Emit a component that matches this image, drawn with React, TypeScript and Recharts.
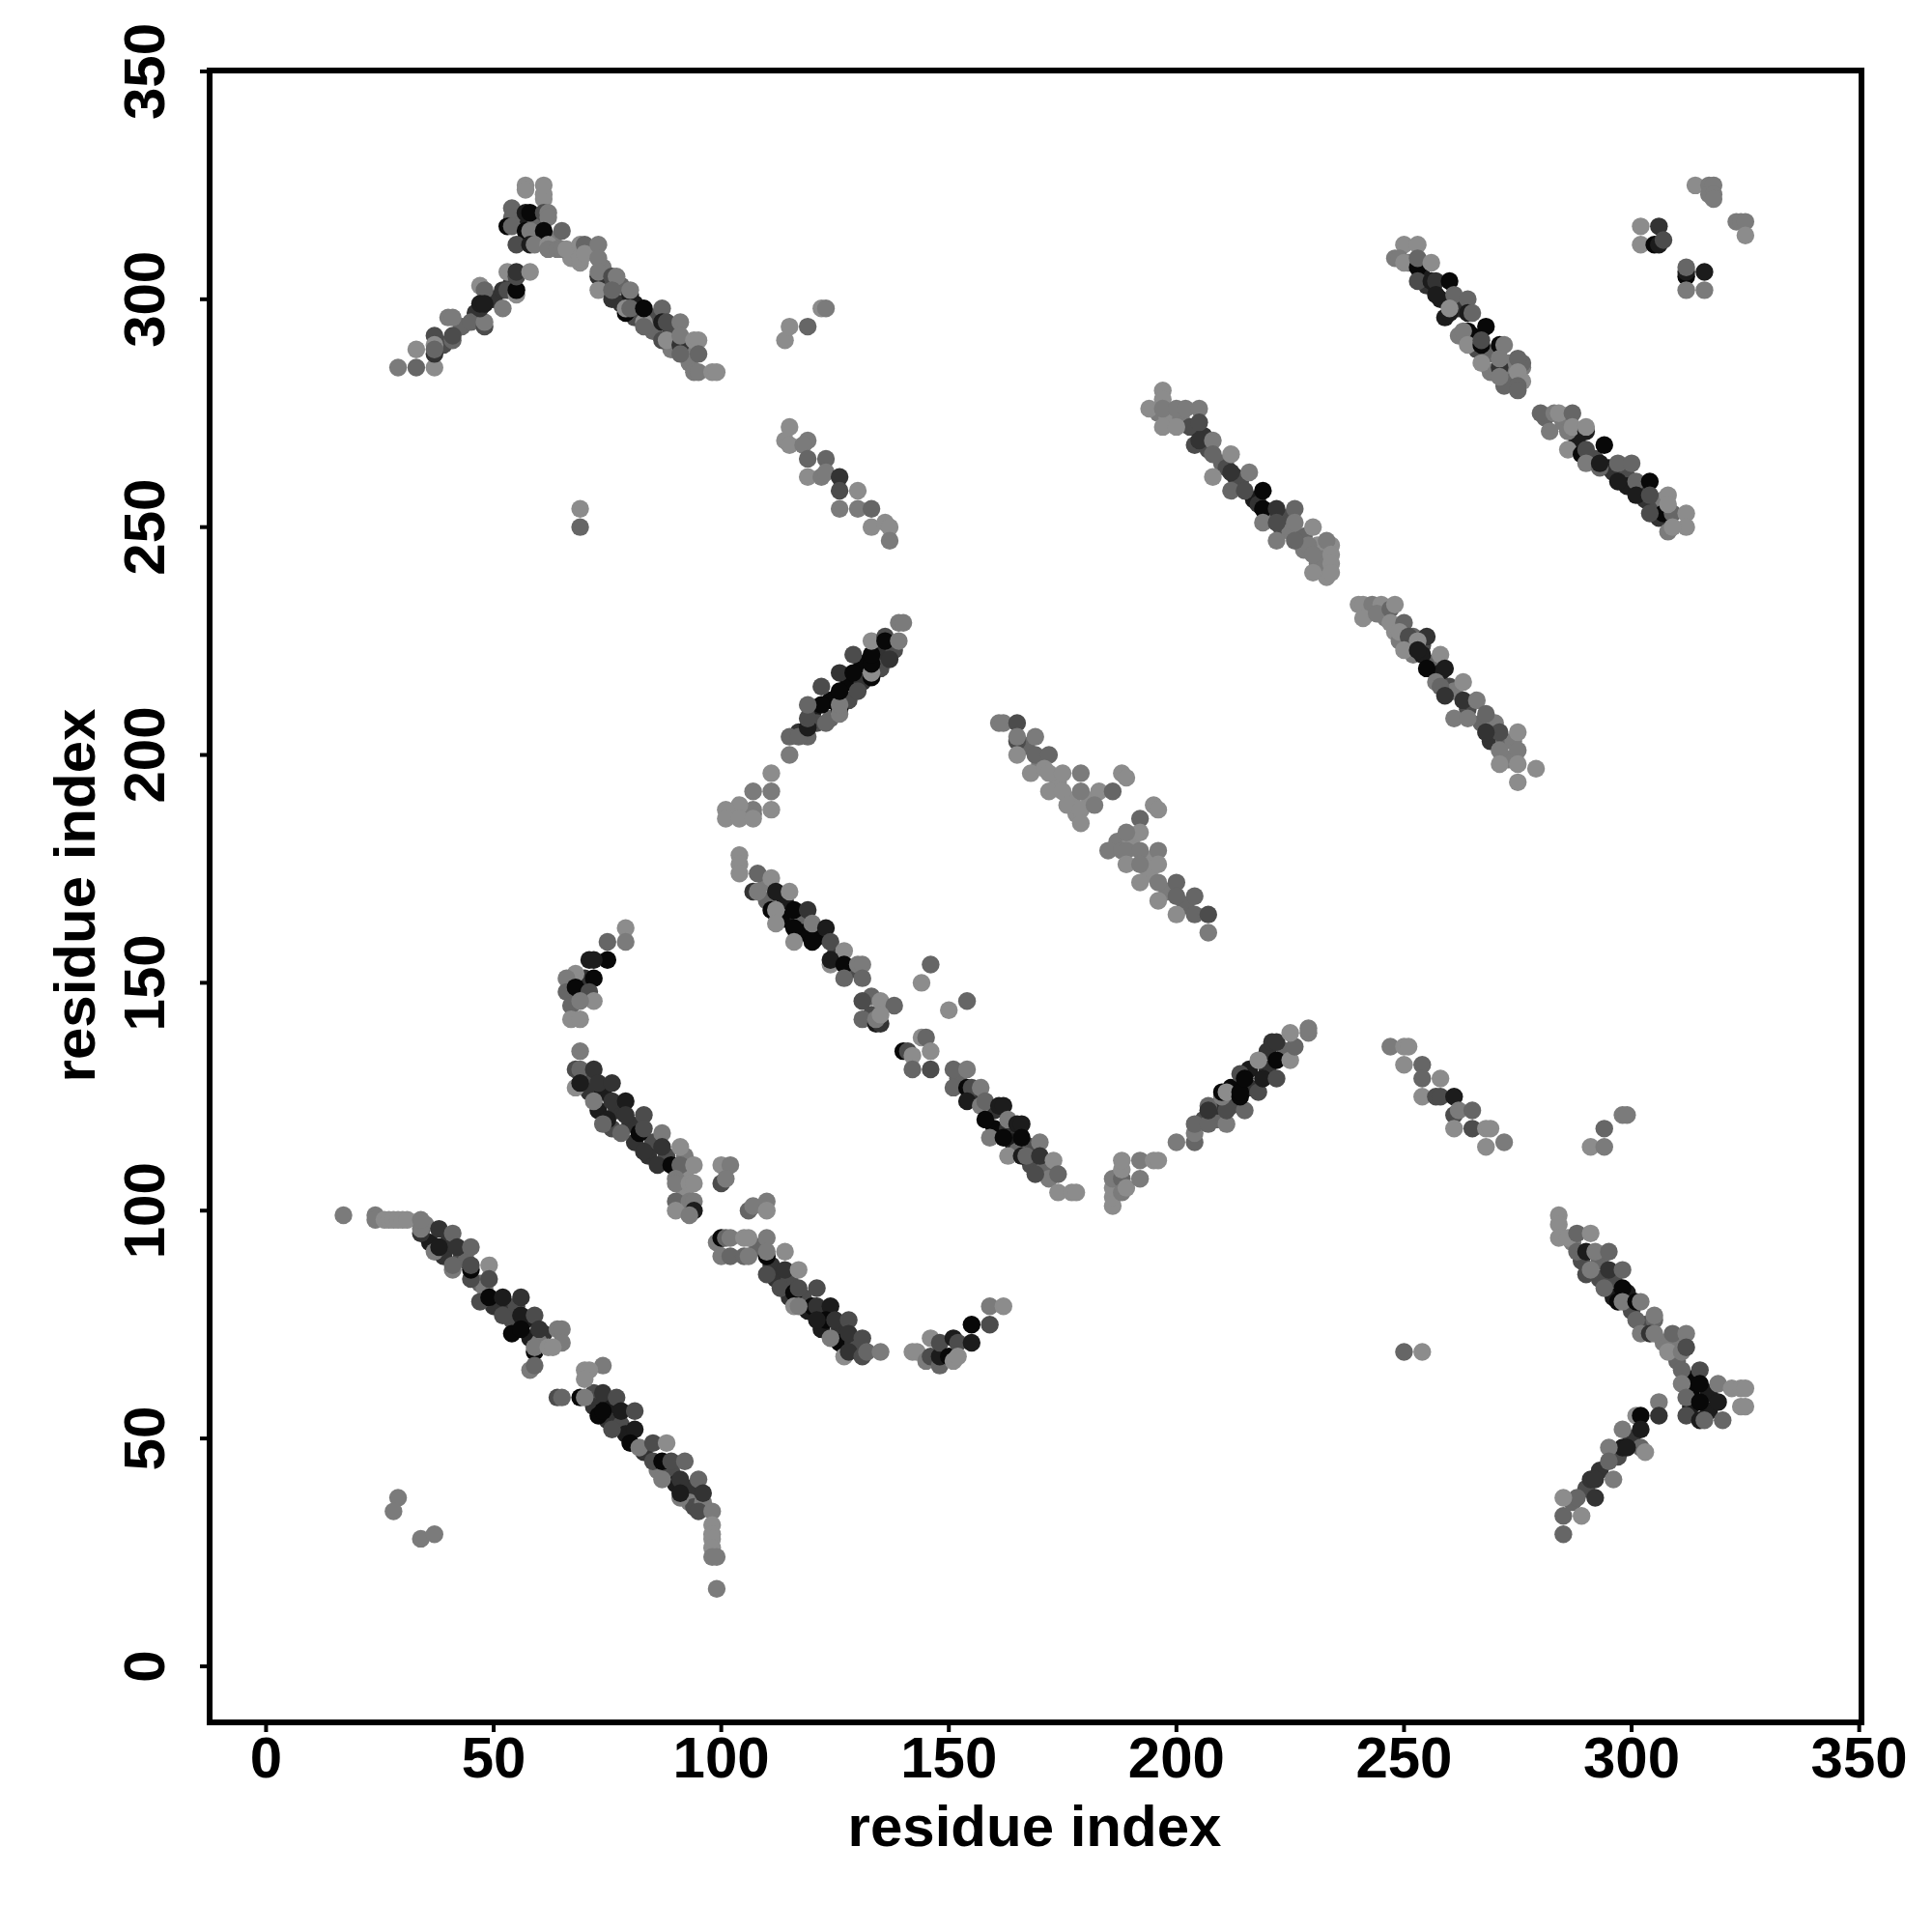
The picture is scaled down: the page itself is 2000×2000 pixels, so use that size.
import { Label, ReferenceArea, Scatter, ScatterChart, XAxis, YAxis } from "recharts";

type Pt = [number, number, number];

// grey levels seen in the plot, light to dark
const shades = ["#8c8c8c", "#7b7b7b", "#666666", "#4c4c4c", "#333333", "#1c1c1c", "#080808"];
const tickValues = [0, 50, 100, 150, 200, 250, 300, 350];

// contacts mostly hidden inside the dense bands, drawn first
const bandsUpper: Pt[] = [
  [251, 308, 1], [254, 305, 5], [255, 303, 4], [258, 300, 5], [259, 296, 5], [262, 298, 4], [262, 292, 1], [265, 292, 6],
  [266, 289, 3], [269, 288, 2], [273, 286, 1], [273, 283, 1], [274, 282, 2], [269, 284, 1], [272, 281, 2], [276, 285, 1],
  [276, 286, 2], [276, 282, 0], [281, 274, 2], [285, 273, 1], [288, 269, 5], [291, 265, 5], [292, 265, 3], [295, 263, 5],
  [296, 262, 4], [299, 261, 3], [299, 259, 5], [302, 258, 4], [303, 256, 4], [306, 255, 3], [307, 256, 1], [306, 252, 4],
  [196, 275, 1], [198, 274, 0], [201, 274, 1], [203, 272, 3], [206, 270, 4], [207, 267, 3], [210, 264, 2], [211, 263, 3],
  [213, 261, 4], [214, 260, 3], [217, 256, 5], [218, 255, 4], [220, 252, 2], [223, 250, 3], [224, 252, 3], [225, 249, 1],
  [228, 248, 2], [228, 245, 1], [231, 246, 0], [232, 243, 1], [232, 241, 0], [233, 239, 0], [231, 242, 1], [234, 246, 0],
  [229, 246, 1], [56, 317, 5], [59, 316, 2], [60, 314, 6], [57, 313, 5], [63, 313, 1], [67, 309, 0], [74, 307, 1],
  [75, 303, 3], [78, 303, 2], [78, 299, 4], [81, 299, 5], [81, 296, 3], [85, 296, 3], [85, 293, 2], [89, 293, 3],
  [89, 289, 1], [93, 289, 1], [93, 286, 1], [39, 290, 3], [43, 294, 2], [46, 297, 4], [50, 300, 4], [54, 304, 4],
];

const bandsMiddle: Pt[] = [
  [242, 231, 1], [246, 230, 1], [248, 227, 0], [249, 225, 1], [252, 222, 1], [252, 226, 2], [254, 224, 3], [256, 220, 2],
  [258, 218, 5], [260, 215, 3], [261, 214, 1], [264, 210, 3], [267, 207, 2], [270, 207, 1], [269, 203, 4], [272, 203, 2],
  [273, 199, 1], [274, 203, 1], [117, 205, 4], [120, 209, 5], [121, 207, 3], [124, 212, 6], [124, 208, 2], [128, 216, 6],
  [128, 212, 3], [131, 220, 6], [131, 216, 4], [135, 222, 4], [135, 219, 3], [138, 223, 3], [110, 172, 1], [110, 168, 2],
  [114, 168, 5], [114, 164, 6], [117, 164, 5], [118, 164, 2], [122, 161, 3], [121, 160, 6], [125, 156, 4], [129, 153, 3],
  [133, 147, 2], [133, 143, 3], [167, 202, 2], [170, 198, 1], [174, 194, 0], [177, 190, 0], [178, 187, 0], [181, 190, 0],
  [187, 181, 1], [190, 181, 0], [194, 177, 0], [194, 174, 0], [198, 170, 1], [202, 167, 2],
];

const bandsLower: Pt[] = [
  [35, 97, 1], [36, 93, 5], [39, 90, 4], [40, 93, 4], [43, 90, 3], [44, 89, 2], [47, 84, 2], [48, 83, 1], [50, 79, 4],
  [53, 79, 4], [54, 76, 3], [55, 79, 3], [57, 76, 5], [58, 72, 5], [61, 73, 4], [60, 71, 1], [72, 60, 3], [72, 57, 4],
  [75, 57, 5], [75, 54, 4], [78, 53, 3], [79, 51, 5], [83, 47, 4], [86, 43, 1], [89, 43, 3], [90, 40, 5], [93, 39, 4],
  [93, 36, 1], [94, 35, 3], [96, 36, 1], [70, 129, 3], [71, 126, 4], [74, 126, 5], [73, 122, 5], [77, 122, 4], [76, 118, 3],
  [80, 119, 4], [81, 115, 4], [85, 115, 3], [84, 112, 4], [88, 112, 3], [92, 112, 1], [92, 108, 0], [92, 104, 0], [91, 101, 3],
  [108, 92, 2], [111, 88, 4], [112, 85, 4], [115, 85, 3], [115, 81, 4], [118, 81, 3], [119, 78, 5], [122, 78, 5], [122, 74, 5],
  [126, 74, 4], [126, 71, 6], [129, 71, 4], [130, 70, 3], [152, 129, 2], [156, 125, 4], [160, 122, 4], [160, 118, 6],
  [163, 118, 4], [164, 115, 5], [168, 114, 3], [165, 113, 2], [168, 110, 3], [171, 109, 2], [172, 107, 1], [206, 120, 3],
  [209, 120, 2], [209, 123, 4], [212, 123, 3], [212, 127, 6], [216, 127, 4], [216, 131, 5], [220, 131, 4], [220, 135, 4],
  [224, 135, 2], [287, 93, 1], [289, 89, 3], [293, 89, 2], [293, 85, 3], [296, 85, 3], [296, 81, 5], [299, 82, 5], [300, 78, 3],
  [303, 75, 3], [307, 71, 1], [310, 71, 1], [310, 67, 2], [313, 63, 6], [313, 60, 6], [317, 60, 5], [317, 56, 5], [313, 57, 5],
  [300, 50, 4], [297, 46, 3], [293, 43, 4], [290, 39, 3], [287, 36, 2],
];

const peakTop: Pt[] = [
  [29, 285, 1], [33, 285, 2], [33, 289, 0], [37, 285, 0], [37, 292, 3], [37, 290, 0], [37, 288, 4], [37, 289, 2],
  [41, 291, 2], [41, 292, 3], [40, 296, 1], [41, 296, 1], [45, 295, 2], [48, 294, 3], [48, 295, 1], [47, 303, 0],
  [48, 302, 2], [47, 298, 4], [47, 299, 5], [48, 299, 5], [52, 298, 1], [52, 302, 4], [53, 302, 3], [55, 301, 0],
  [55, 302, 6], [53, 306, 0], [55, 305, 3], [55, 306, 4], [58, 306, 0], [57, 325, 0], [57, 324, 0], [61, 322, 0],
  [61, 323, 0], [61, 325, 0], [54, 320, 2], [54, 318, 2], [57, 319, 5], [58, 319, 6], [61, 319, 3], [62, 319, 1],
  [62, 318, 1], [53, 316, 6], [54, 316, 2], [57, 315, 6], [58, 315, 1], [61, 315, 6], [65, 315, 2], [55, 312, 3],
  [58, 312, 5], [59, 312, 1], [62, 312, 0], [62, 311, 1], [64, 311, 1], [65, 311, 1], [66, 311, 0], [69, 312, 0],
  [70, 312, 2], [69, 308, 0], [69, 309, 0], [70, 310, 0], [73, 312, 1], [73, 309, 1], [73, 305, 4], [73, 306, 1],
  [73, 302, 0], [76, 305, 3], [77, 305, 1], [76, 300, 4], [76, 302, 2], [80, 301, 5], [80, 302, 1], [79, 297, 6],
  [79, 298, 0], [80, 298, 2], [83, 295, 0], [83, 298, 6], [83, 294, 2], [87, 298, 2], [87, 295, 5], [88, 295, 3],
  [91, 295, 1], [87, 291, 3], [88, 291, 0], [91, 290, 4], [91, 292, 1], [91, 288, 2], [94, 291, 0], [95, 291, 0],
  [95, 288, 2], [94, 284, 1], [95, 284, 1], [98, 284, 0], [99, 284, 0],
];

const loneSpots: Pt[] = [
  [69, 254, 0], [69, 250, 2], [114, 291, 0], [115, 294, 0], [119, 294, 2], [122, 298, 0], [123, 298, 1],
  [29, 37, 1], [28, 34, 1], [34, 28, 1], [37, 29, 1], [250, 69, 2], [254, 69, 0],
  [298, 121, 1], [299, 121, 1], [294, 118, 2], [291, 114, 0], [294, 114, 1],
  [144, 150, 0], [146, 154, 2], [150, 144, 0], [154, 146, 2],
  [159, 79, 1], [162, 79, 0], [159, 75, 3],
];

const shortStrand: Pt[] = [
  [114, 269, 0], [115, 268, 0], [115, 272, 0], [119, 269, 1], [118, 268, 1], [119, 265, 2], [119, 261, 0],
  [122, 261, 1], [123, 265, 2], [123, 262, 1], [126, 261, 4], [126, 258, 3], [126, 254, 1], [130, 254, 1],
  [130, 258, 0], [133, 254, 2], [133, 250, 0], [136, 251, 0], [137, 250, 0], [137, 247, 1],
];

const upperRight: Pt[] = [
  [314, 325, 0], [317, 325, 1], [318, 325, 1], [317, 323, 1], [318, 323, 1], [318, 322, 1], [323, 317, 1],
  [324, 317, 1], [325, 317, 1], [325, 314, 0], [302, 316, 0], [306, 316, 4], [302, 312, 0], [305, 312, 6],
  [306, 312, 5], [307, 313, 3], [312, 305, 6], [312, 306, 5], [312, 307, 2], [316, 306, 5], [312, 302, 1],
  [316, 302, 1],
];

const helixUpper: Pt[] = [
  [250, 312, 0], [253, 312, 0], [248, 309, 1], [249, 309, 1], [250, 308, 0], [253, 307, 6], [253, 309, 2],
  [256, 308, 0], [253, 304, 3], [256, 304, 5], [257, 304, 4], [260, 304, 6], [257, 301, 5], [261, 301, 2],
  [264, 300, 2], [260, 297, 5], [260, 298, 0], [264, 297, 5], [265, 297, 2], [264, 293, 6], [263, 293, 1],
  [268, 294, 6], [264, 290, 0], [267, 290, 6], [267, 291, 3], [271, 290, 6], [272, 290, 1], [267, 286, 0],
  [271, 285, 4], [271, 287, 1], [275, 287, 2], [275, 284, 0], [271, 283, 1], [275, 281, 2], [275, 280, 2],
];

const helixRight: Pt[] = [
  [280, 275, 2], [283, 275, 1], [284, 275, 0], [287, 275, 2], [282, 271, 1], [286, 271, 1], [287, 272, 0],
  [286, 267, 0], [290, 271, 5], [290, 272, 0], [289, 266, 6], [290, 267, 3], [294, 268, 6], [290, 264, 1],
  [293, 263, 2], [293, 264, 5], [297, 264, 2], [300, 264, 2], [297, 260, 5], [301, 260, 2], [304, 260, 6],
  [301, 257, 5], [304, 257, 3], [308, 257, 0], [307, 253, 6], [304, 253, 3], [309, 253, 2], [308, 255, 0],
  [312, 253, 0], [312, 250, 0], [308, 249, 1], [309, 250, 0],
];

const helixMiddle: Pt[] = [
  [197, 280, 0], [197, 278, 0], [194, 276, 0], [197, 276, 1], [197, 272, 0], [200, 276, 1], [202, 276, 1],
  [205, 276, 1], [200, 272, 0], [205, 273, 3], [204, 268, 3], [205, 269, 4], [208, 269, 1], [208, 266, 2],
  [212, 266, 0], [208, 261, 0], [212, 262, 4], [216, 262, 1], [212, 258, 2], [215, 258, 3], [219, 258, 6],
  [219, 254, 6], [222, 254, 4], [226, 254, 2], [219, 251, 1], [222, 251, 3], [222, 247, 1], [226, 251, 1],
  [226, 247, 2], [230, 250, 0], [233, 247, 1], [230, 244, 1], [234, 244, 0], [234, 242, 0], [230, 240, 0],
  [234, 240, 0],
];

const helixLower: Pt[] = [
  [240, 233, 0], [241, 233, 0], [243, 233, 1], [245, 233, 0], [241, 230, 0], [244, 231, 1], [247, 232, 2],
  [248, 233, 0], [247, 229, 0], [250, 229, 2], [249, 227, 0], [251, 226, 3], [255, 226, 4], [253, 225, 0],
  [250, 223, 0], [254, 222, 5], [253, 223, 5], [258, 222, 0], [255, 219, 6], [259, 219, 5], [257, 216, 1],
  [258, 215, 2], [263, 216, 0], [259, 213, 4], [263, 212, 4], [266, 212, 1], [261, 208, 1], [264, 208, 1],
  [268, 209, 2], [271, 205, 3], [268, 205, 4], [275, 205, 0], [275, 201, 1], [271, 201, 1], [271, 198, 0],
  [275, 198, 0], [279, 197, 0], [275, 194, 0],
];

const helixA: Pt[] = [
  [115, 204, 2], [119, 204, 2], [117, 204, 2], [115, 200, 1], [111, 196, 0], [111, 192, 1], [107, 192, 1],
  [107, 187, 2], [107, 188, 1], [111, 188, 0], [104, 189, 0], [101, 188, 0], [101, 186, 0], [104, 186, 0],
  [107, 186, 0], [119, 206, 5], [119, 208, 3], [123, 207, 2], [122, 211, 6], [119, 211, 2], [126, 210, 6],
  [126, 209, 1], [126, 211, 1], [122, 215, 3], [126, 214, 6], [130, 214, 3], [126, 218, 4], [129, 218, 6],
  [133, 217, 6], [133, 218, 0], [129, 222, 3], [133, 220, 6], [133, 222, 6], [137, 221, 4], [133, 225, 0],
  [136, 226, 3], [136, 225, 6], [139, 225, 1], [139, 229, 1], [140, 229, 1],
];

const helixB: Pt[] = [
  [104, 178, 0], [104, 176, 0], [104, 174, 0], [108, 174, 2], [111, 173, 0], [107, 170, 4], [108, 170, 1],
  [112, 170, 5], [115, 170, 0], [111, 166, 6], [112, 166, 0], [116, 166, 6], [119, 166, 4], [118, 161, 6],
  [112, 163, 0], [116, 162, 6], [120, 163, 1], [123, 162, 5], [116, 159, 0], [120, 159, 6], [124, 159, 3],
  [127, 157, 0], [124, 154, 0], [124, 155, 5], [127, 154, 6], [130, 154, 1], [131, 154, 1], [127, 151, 2],
  [131, 151, 2], [131, 146, 3], [135, 146, 0], [138, 145, 2], [131, 142, 2], [134, 141, 5], [135, 141, 4],
  [134, 142, 1], [135, 143, 0],
];

const helixC: Pt[] = [
  [144, 138, 0], [145, 138, 2], [140, 135, 6], [141, 135, 3], [142, 134, 0], [146, 135, 0], [142, 131, 2],
  [146, 131, 3], [151, 131, 2], [154, 131, 1], [151, 127, 2], [154, 127, 6], [155, 127, 3], [157, 127, 1],
  [154, 124, 5], [157, 123, 1], [158, 124, 2], [161, 123, 5], [162, 123, 5], [158, 120, 6], [163, 120, 1],
  [165, 119, 5], [166, 119, 5], [159, 116, 1], [162, 116, 6], [166, 116, 6], [170, 115, 1], [163, 112, 0],
  [166, 112, 5], [167, 112, 2], [170, 112, 4], [173, 111, 0], [169, 108, 3], [174, 108, 2], [174, 104, 0],
  [177, 104, 0], [178, 104, 0],
];

const hookLeft: Pt[] = [
  [79, 162, 0], [75, 159, 2], [79, 159, 1], [75, 155, 6], [71, 155, 5], [72, 155, 5], [70, 151, 4], [72, 151, 6],
  [68, 152, 0], [66, 151, 1], [66, 148, 2], [68, 149, 6], [71, 148, 3], [72, 146, 0], [67, 145, 2], [69, 146, 1],
  [67, 142, 0], [69, 142, 0],
];

const helixD: Pt[] = [
  [69, 135, 1], [68, 131, 3], [69, 131, 2], [72, 131, 4], [68, 127, 0], [69, 128, 5], [73, 128, 4], [76, 128, 4],
  [72, 124, 1], [76, 124, 4], [79, 124, 5], [75, 120, 5], [74, 119, 2], [79, 121, 4], [83, 121, 3], [78, 117, 2],
  [82, 117, 6], [83, 118, 3], [87, 117, 1], [83, 113, 4], [87, 114, 4], [91, 114, 0], [86, 110, 4], [89, 110, 6],
  [91, 110, 2], [94, 110, 0], [90, 107, 1], [90, 106, 1], [93, 106, 0], [94, 106, 0], [90, 102, 2], [93, 102, 1],
  [94, 102, 1], [90, 100, 0], [94, 100, 5], [93, 99, 1], [100, 110, 0], [102, 110, 1], [100, 106, 3], [101, 107, 1],
  [106, 100, 2], [107, 101, 1], [110, 102, 1], [110, 100, 0],
];

const helixE: Pt[] = [
  [99, 93, 1], [100, 94, 6], [101, 94, 2], [102, 94, 1], [105, 94, 0], [106, 94, 0], [110, 94, 1], [100, 90, 1],
  [102, 90, 2], [105, 90, 2], [106, 90, 1], [110, 90, 6], [110, 91, 1], [114, 91, 0], [110, 86, 3], [114, 87, 4],
  [117, 87, 0], [113, 83, 3], [116, 82, 6], [117, 83, 3], [121, 83, 3], [120, 79, 6], [121, 79, 4], [116, 79, 0],
  [117, 79, 1], [124, 79, 5], [123, 76, 6], [121, 76, 5], [125, 76, 4], [128, 76, 3], [124, 72, 1], [128, 73, 4],
  [131, 72, 3], [127, 68, 0], [128, 69, 4], [131, 68, 3], [132, 69, 2], [135, 69, 1],
];

const hookBottom: Pt[] = [
  [142, 69, 0], [143, 69, 0], [146, 72, 0], [145, 67, 1], [146, 68, 3], [148, 66, 2], [148, 68, 5], [148, 71, 3],
  [150, 68, 6], [151, 67, 0], [151, 72, 5], [152, 71, 3], [152, 68, 0], [155, 71, 5], [155, 75, 6],
];

const tailLeft: Pt[] = [
  [17, 99, 1], [24, 99, 1], [24, 98, 1], [26, 98, 0], [27, 98, 0], [28, 98, 0], [29, 98, 0], [30, 98, 0], [31, 98, 0],
  [34, 95, 4], [34, 96, 1], [34, 98, 1], [38, 96, 4], [37, 91, 1], [38, 92, 5], [41, 95, 2], [42, 92, 4], [41, 87, 1],
  [41, 88, 2], [45, 92, 2], [45, 85, 3], [45, 87, 6], [45, 88, 3], [49, 88, 0], [49, 85, 3], [47, 80, 3], [49, 81, 6],
  [52, 81, 5], [56, 81, 4], [52, 77, 3], [54, 73, 6], [56, 77, 5], [59, 77, 3], [56, 74, 6], [60, 74, 4], [64, 74, 1],
  [65, 74, 1], [59, 69, 6], [59, 70, 1], [65, 71, 1], [62, 70, 0], [63, 70, 0], [58, 65, 1], [59, 66, 2], [64, 59, 3],
  [65, 59, 2], [74, 66, 1], [70, 65, 0], [71, 65, 0], [70, 63, 0], [69, 59, 6], [70, 59, 1], [74, 60, 4], [73, 55, 6],
  [74, 56, 6], [77, 59, 3], [78, 56, 5], [81, 56, 3], [76, 52, 3], [81, 52, 5], [80, 49, 6], [82, 48, 1], [85, 49, 3],
  [85, 45, 3], [88, 49, 0], [87, 45, 6], [89, 45, 3], [92, 45, 2], [87, 41, 1], [91, 41, 4], [95, 41, 2], [91, 37, 1],
  [91, 38, 5], [96, 38, 4], [95, 34, 3], [98, 34, 1], [98, 31, 0], [98, 29, 0], [98, 28, 0], [98, 26, 0], [98, 24, 1],
  [99, 24, 1], [99, 17, 1],
];

const helixF: Pt[] = [
  [186, 101, 0], [186, 103, 0], [186, 105, 0], [186, 107, 1], [188, 107, 2], [188, 104, 1], [189, 105, 0],
  [188, 109, 0], [188, 111, 0], [192, 107, 1], [192, 111, 1], [195, 111, 0], [196, 111, 0], [200, 115, 1],
  [204, 115, 2], [204, 117, 1], [204, 119, 2], [207, 119, 2], [211, 119, 1], [207, 123, 2], [207, 122, 4],
  [211, 122, 3], [215, 122, 2], [210, 125, 1], [210, 126, 6], [211, 126, 0], [214, 125, 6], [214, 126, 6],
  [218, 126, 3], [214, 130, 3], [215, 129, 6], [219, 129, 5], [222, 129, 3], [218, 133, 0], [222, 133, 6],
  [225, 133, 0], [221, 137, 4], [222, 137, 4], [226, 136, 2], [225, 139, 0], [229, 139, 1], [229, 140, 1],
];

const strandG: Pt[] = [
  [247, 136, 1], [250, 136, 0], [251, 136, 0], [250, 132, 0], [254, 132, 2], [254, 129, 2], [258, 129, 0],
  [254, 125, 0], [257, 125, 3], [258, 125, 3], [261, 125, 5], [261, 121, 3], [262, 122, 1], [265, 122, 2],
  [261, 118, 0], [265, 118, 3], [268, 118, 0], [269, 118, 0], [268, 114, 0], [272, 115, 1],
];

const wingRight: Pt[] = [
  [284, 99, 0], [284, 97, 0], [284, 94, 0], [286, 94, 0], [288, 95, 2], [291, 95, 0], [288, 91, 2], [290, 91, 5],
  [292, 91, 1], [295, 91, 2], [290, 86, 3], [291, 87, 1], [295, 87, 4], [298, 87, 2], [294, 83, 2], [298, 83, 6],
  [297, 80, 6], [298, 80, 1], [301, 80, 6], [302, 80, 1], [301, 76, 2], [305, 76, 2], [305, 77, 1], [302, 73, 1],
  [304, 73, 4], [305, 73, 1], [309, 73, 2], [312, 73, 1], [308, 69, 0], [311, 69, 1], [312, 70, 3], [311, 65, 2],
  [315, 65, 3], [311, 62, 1], [315, 62, 6], [319, 62, 1], [322, 61, 0], [324, 61, 0], [325, 61, 0], [312, 59, 2],
  [315, 58, 6], [319, 58, 5], [324, 57, 0], [325, 57, 0], [312, 55, 3], [315, 54, 5], [316, 54, 2], [320, 54, 2],
];

const wingLower: Pt[] = [
  [306, 58, 1], [306, 55, 4], [301, 55, 0], [302, 55, 6], [302, 52, 5], [298, 52, 1], [302, 48, 2], [303, 47, 0],
  [298, 48, 5], [299, 48, 5], [295, 48, 1], [295, 45, 2], [291, 41, 4], [292, 41, 4], [296, 41, 1], [292, 37, 4],
  [288, 37, 2], [285, 37, 0], [285, 33, 2], [289, 33, 0], [285, 29, 2],
];

const fadedStrand: Pt[] = [
  [161, 207, 1], [162, 207, 1], [165, 207, 3], [165, 203, 3], [165, 204, 1], [169, 204, 1], [165, 200, 0],
  [169, 200, 2], [172, 200, 2], [168, 196, 0], [171, 197, 0], [172, 196, 0], [175, 196, 0], [179, 196, 1],
  [172, 192, 0], [175, 192, 0], [179, 192, 1], [176, 189, 0], [183, 192, 0], [186, 192, 2], [188, 196, 0],
  [189, 195, 0], [179, 188, 0], [179, 185, 0], [182, 189, 1], [195, 189, 0], [196, 188, 0], [192, 186, 2],
  [192, 183, 0], [189, 183, 1], [185, 179, 1], [188, 179, 1], [189, 179, 1], [192, 179, 1], [196, 179, 1],
  [189, 176, 0], [192, 176, 1], [196, 176, 0], [192, 172, 0], [196, 172, 1], [200, 172, 2], [196, 168, 0],
  [200, 169, 2], [204, 169, 2], [200, 165, 0], [204, 165, 2], [207, 165, 3], [207, 161, 1],
];

const clusters = [
  bandsUpper, bandsMiddle, bandsLower,
  peakTop, loneSpots, shortStrand, upperRight, helixUpper, helixRight, helixMiddle, helixLower, helixA, helixB,
  helixC, hookLeft, helixD, helixE, hookBottom, tailLeft, helixF, strandG, wingRight, wingLower, fadedStrand,
];

const font = { fontFamily: "Liberation Sans", fontWeight: 700, fontSize: 60, fill: "#000" };

function Dot(props: any) {
  return <circle cx={props.cx} cy={props.cy} r={9.2} fill={shades[props.payload.shade]} />;
}

function XTick({ x, y, payload }: any) {
  return (
    <text x={x} y={y} textAnchor="middle" {...font}>
      {payload.value}
    </text>
  );
}

function YTick({ x, y, payload }: any) {
  return (
    <text x={x} y={y} textAnchor="middle" transform={`rotate(-90 ${x} ${y})`} {...font}>
      {payload.value}
    </text>
  );
}

export default function App() {
  return (
    <div style={{ position: "absolute", left: 0, top: 0, width: 2000, height: 2000, background: "#fff" }}>
      <ScatterChart width={2000} height={2000} margin={{ left: 117, right: 73, top: 73, bottom: 97 }}>
        <XAxis
          type="number"
          dataKey="x"
          domain={[-12.4, 350.5]}
          ticks={tickValues}
          interval={0}
          allowDataOverflow
          height={120}
          tickSize={10}
          tickMargin={47}
          axisLine={false}
          tickLine={{ stroke: "#000", strokeWidth: 4 }}
          tick={<XTick />}
        >
          <Label
            content={() => (
              <text x={1071} y={1911} textAnchor="middle" {...font}>
                residue index
              </text>
            )}
          />
        </XAxis>
        <YAxis
          type="number"
          dataKey="y"
          domain={[-12.3, 350.2]}
          ticks={tickValues}
          interval={0}
          allowDataOverflow
          width={100}
          tickSize={10}
          tickMargin={37}
          axisLine={false}
          tickLine={{ stroke: "#000", strokeWidth: 4 }}
          tick={<YTick />}
        >
          <Label
            content={() => (
              <text x={98} y={927} textAnchor="middle" transform="rotate(-90 98 927)" {...font}>
                residue index
              </text>
            )}
          />
        </YAxis>
        {clusters.map((cluster, i) => (
          <Scatter
            key={i}
            data={cluster.map(([x, y, shade]) => ({ x, y, shade }))}
            shape={<Dot />}
            isAnimationActive={false}
          />
        ))}
        <ReferenceArea
          x1={-12.4}
          x2={350.5}
          y1={-12.3}
          y2={350.2}
          fill="none"
          stroke="#000"
          strokeWidth={6}
          ifOverflow="visible"
        />
      </ScatterChart>
    </div>
  );
}
